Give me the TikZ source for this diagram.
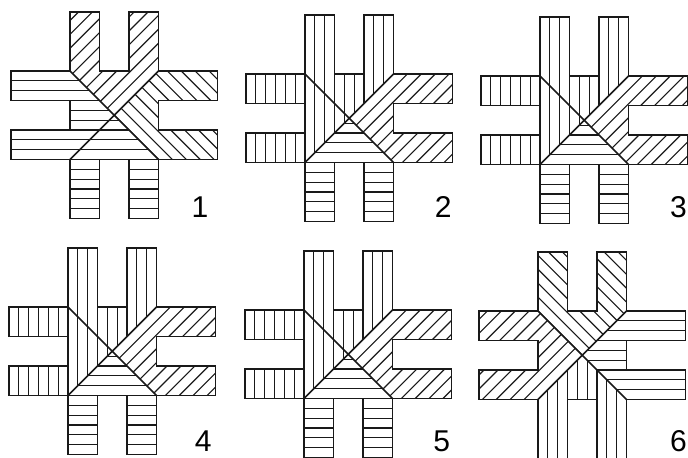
\documentclass[tikz,border=0pt]{standalone}
\usepackage{fontspec}
\setmainfont{Liberation Sans}

\tikzset{
  hatch/.style={line width=1.1pt, black!90},
  band/.style={line width=1.4pt, black!90, line join=miter},
  num/.style={font=\fontsize{29}{30}\selectfont, inner sep=0pt}
}

% hatchings, drawn over the whole 7x7 cell and clipped afterwards
\newcommand{\hatchH}{\foreach \k in {0,...,21} \draw[hatch] (0,\k/3) -- (7,\k/3);}
\newcommand{\hatchV}{\foreach \k in {0,...,21} \draw[hatch] (\k/3,0) -- (\k/3,7);}
\newcommand{\hatchD}{\foreach \k in {-15,...,15} \draw[hatch] (-1.5,{-1.5+\k*0.4714}) -- (8.5,{8.5+\k*0.4714});}
\newcommand{\hatchA}{\foreach \k in {-15,...,15} \draw[hatch] (-1.5,{8.5+\k*0.4714}) -- (8.5,{-1.5+\k*0.4714});}

% the four parts of one cross: arms plus a quarter of the square
\newcommand{\cliptop}{\clip (2,7) -- (3,7) -- (3,5) -- (4,5) -- (4,7) -- (5,7) -- (5,5) -- (3.5,3.5) -- (2,5) -- cycle;}
\newcommand{\clipleft}{\clip (0,5) -- (2,5) -- (3.5,3.5) -- (2,2) -- (0,2) -- (0,3) -- (2,3) -- (2,4) -- (0,4) -- cycle;}
\newcommand{\clipright}{\clip (7,5) -- (5,5) -- (3.5,3.5) -- (5,2) -- (7,2) -- (7,3) -- (5,3) -- (5,4) -- (7,4) -- cycle;}
\newcommand{\clipbottom}{\clip (2,0) -- (3,0) -- (3,2) -- (4,2) -- (4,0) -- (5,0) -- (5,2) -- (3.5,3.5) -- (2,2) -- cycle;}

% #1 shift, #2 top, #3 left, #4 right, #5 bottom
\newcommand{\weave}[5]{%
  \begin{scope}[shift={#1}]
    \begin{scope}\cliptop #2\end{scope}
    \begin{scope}\clipleft #3\end{scope}
    \begin{scope}\clipright #4\end{scope}
    \begin{scope}\clipbottom #5\end{scope}
    \draw[band] (2,7) -- (3,7) -- (3,5) -- (4,5) -- (4,7) -- (5,7) -- (5,5) -- (7,5)
      -- (7,4) -- (5,4) -- (5,3) -- (7,3) -- (7,2) -- (5,2) -- (5,0) -- (4,0) -- (4,2)
      -- (3,2) -- (3,0) -- (2,0) -- (2,2) -- (0,2) -- (0,3) -- (2,3) -- (2,4) -- (0,4)
      -- (0,5) -- (2,5) -- cycle;
    \draw[band] (2,5) -- (5,2) (2,2) -- (5,5);
  \end{scope}}

\begin{document}
\begin{tikzpicture}
  \useasboundingbox (0,0) rectangle (23.322,-15.525);

  % upper row
  \weave{(0.373,-7.407)}{\hatchD}{\hatchH}{\hatchA}{\hatchH}
  \weave{(8.339,-7.508)}{\hatchV}{\hatchV}{\hatchD}{\hatchH}
  \weave{(16.305,-7.576)}{\hatchV}{\hatchV}{\hatchD}{\hatchH}

  % lower row
  \weave{(0.305,-15.407)}{\hatchV}{\hatchV}{\hatchD}{\hatchH}
  \weave{(8.305,-15.508)}{\hatchV}{\hatchV}{\hatchD}{\hatchH}
  \weave{(16.237,-15.542)}{\hatchA}{\hatchD}{\hatchH}{\hatchV}

  % numbers
  \node[num] (n1) at (6.780,-7.017) {1};
  \node[num] (n2) at (15.027,-7.007) {2};
  \node[num] (n3) at (23.000,-7.017) {3};
  \node[num] (n4) at (6.892,-14.960) {4};
  \node[num] (n5) at (14.973,-14.950) {5};
  \node[num] (n6) at (23.000,-14.950) {6};
\end{tikzpicture}
\end{document}
